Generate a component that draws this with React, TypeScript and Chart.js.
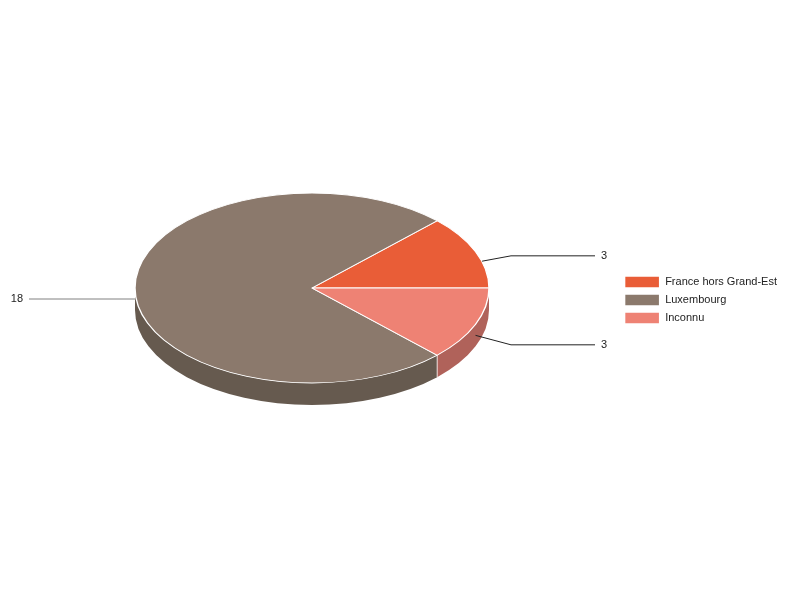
import { useEffect, useRef } from 'react'
import Chart from 'chart.js/auto'

const categories = ['France hors Grand-Est', 'Luxembourg', 'Inconnu']
const values = [3, 18, 3]
const topColors = ['#E95D37', '#8B796C', '#EE8274']
const sideColors = ['#A9442A', '#665A4F', '#B0625A']
const leaderColors = ['#222222', '#808080', '#222222']

// ellipse placement of the tilted pie
const CX = 312
const CY = 288
const RX = 177
const RY = 95
const DEPTH = 22
const FONT = 'Arial, "Liberation Sans", sans-serif'

const pie3d = {
  id: 'pie3d',
  _saved: false,
  beforeDatasetsDraw(chart: any) {
    const arcs = chart.getDatasetMeta(0).data
    if (!arcs.length) return
    const { x, y, outerRadius: r } = arcs[0].getProps(['x', 'y', 'outerRadius'], true)
    const ctx = chart.ctx
    const sy = RY / r
    ctx.save()
    this._saved = true
    // squash to an ellipse and mirror so slices run anticlockwise
    ctx.translate(CX, CY)
    ctx.scale(-RX / r, sy)
    ctx.translate(-x, -y)
    const d = DEPTH / sy
    arcs.forEach((a: any, i: number) => {
      const { startAngle, endAngle } = a.getProps(['startAngle', 'endAngle'], true)
      for (let k = -2; k <= 2; k++) {
        const lo = Math.max(startAngle, k * 2 * Math.PI)
        const hi = Math.min(endAngle, k * 2 * Math.PI + Math.PI)
        if (hi <= lo) continue
        ctx.beginPath()
        ctx.arc(x, y, r, lo, hi)
        ctx.arc(x, y + d, r, hi, lo, true)
        ctx.closePath()
        ctx.fillStyle = sideColors[i]
        ctx.fill()
      }
    })
    ctx.strokeStyle = '#ffffff'
    ctx.lineWidth = 1
    arcs.forEach((a: any) => {
      const { startAngle } = a.getProps(['startAngle'], true)
      if (Math.sin(startAngle) > 0.01) {
        const px = x + r * Math.cos(startAngle)
        const py = y + r * Math.sin(startAngle)
        ctx.beginPath()
        ctx.moveTo(px, py)
        ctx.lineTo(px, py + d)
        ctx.stroke()
      }
    })
  },
  afterDatasetsDraw(chart: any) {
    if (this._saved) {
      chart.ctx.restore()
      this._saved = false
    }
  },
  afterDraw(chart: any) {
    const arcs = chart.getDatasetMeta(0).data
    const ctx = chart.ctx
    ctx.save()
    ctx.font = '11px ' + FONT
    ctx.textBaseline = 'middle'
    arcs.forEach((a: any, i: number) => {
      const { startAngle, endAngle } = a.getProps(['startAngle', 'endAngle'], true)
      const phi = Math.PI - (startAngle + endAngle) / 2
      const ux = Math.cos(phi)
      const uy = Math.sin(phi)
      // leader anchor sits a little outside the rim on the upper half
      const k = uy < -0.2 ? 1.04 : 1
      const ax = CX + RX * ux * k
      const ay = CY + RY * uy * k + DEPTH / 2
      const ly = Math.abs(uy) > 0.2 ? CY + (ay - CY) * 1.2 : ay
      const side = ux >= 0 ? 1 : -1
      const bx = CX + side * (RX + 22)
      const ex = bx + side * 84
      ctx.strokeStyle = leaderColors[i]
      ctx.lineWidth = 1
      ctx.beginPath()
      ctx.moveTo(ax, ay)
      ctx.lineTo(bx, ly)
      ctx.lineTo(ex, ly)
      ctx.stroke()
      ctx.fillStyle = '#222222'
      ctx.textAlign = side > 0 ? 'left' : 'right'
      ctx.fillText(String(values[i]), ex + side * 6, ly)
    })
    ctx.restore()
  },
}

export default function App() {
  const ref = useRef<HTMLCanvasElement | null>(null)
  useEffect(() => {
    if (!ref.current) return
    document.body.style.margin = '0'
    const chart = new Chart(ref.current, {
      type: 'pie',
      data: {
        labels: categories,
        datasets: [{
          data: values,
          backgroundColor: topColors,
          borderColor: '#ffffff',
          borderWidth: 1.4,
          hoverOffset: 0,
          clip: false,
        } as any],
      },
      options: {
        animation: false,
        responsive: false,
        radius: 177,
        rotation: 270,
        layout: { padding: { right: 13 } },
        plugins: {
          tooltip: { enabled: false },
          legend: {
            position: 'right',
            align: 'center',
            labels: {
              boxWidth: 35,
              boxHeight: 12,
              padding: 6,
              color: '#222222',
              font: { size: 11, family: FONT },
            },
          },
        },
      } as any,
      plugins: [pie3d],
    })
    return () => chart.destroy()
  }, [])
  return <canvas ref={ref} width={800} height={600} />
}
